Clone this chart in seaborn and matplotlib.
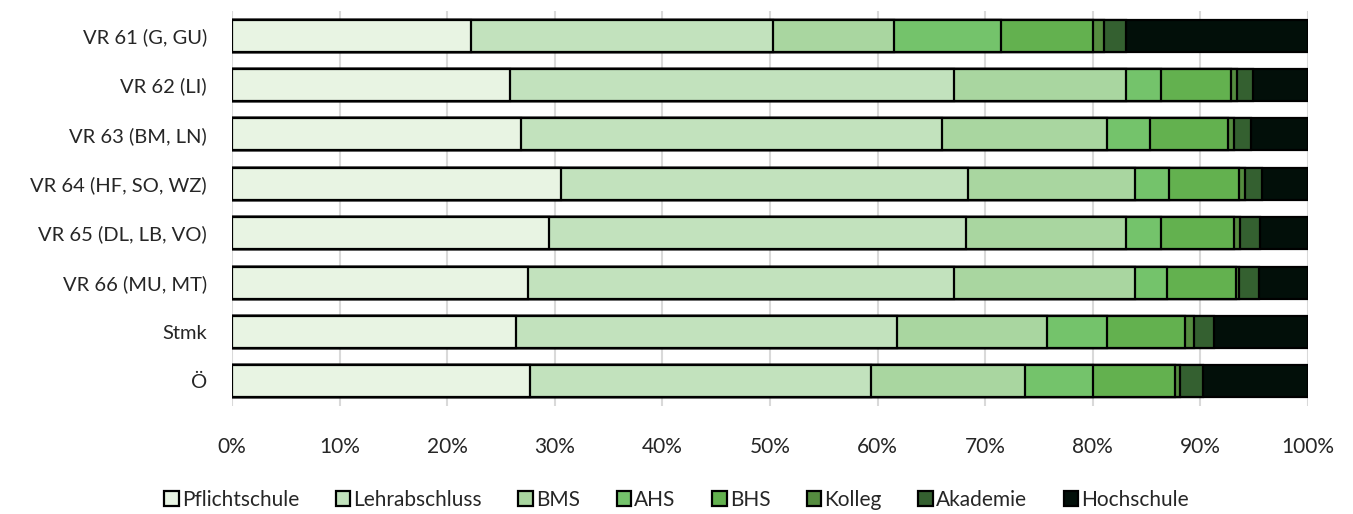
import numpy as np
import matplotlib
matplotlib.use("Agg")
import matplotlib.pyplot as plt
import pandas as pd
import seaborn as sns

# Daten (Anteile in %)
regionen = ["VR 61 (G, GU)", "VR 62 (LI)", "VR 63 (BM, LN)", "VR 64 (HF, SO, WZ)",
            "VR 65 (DL, LB, VO)", "VR 66 (MU, MT)", "Stmk", "Ö"]
bildung = ["Pflichtschule", "Lehrabschluss", "BMS", "AHS", "BHS", "Kolleg", "Akademie", "Hochschule"]

pflichtschule = [22.2, 25.8, 26.9, 30.6, 29.5, 27.5, 26.4, 27.7]
lehrabschluss = [28.1, 41.3, 39.1, 37.8, 38.7, 39.6, 35.4, 31.7]
bms = [11.2, 16.0, 15.3, 15.5, 14.9, 16.8, 13.9, 14.3]
ahs = [10.0, 3.2, 4.0, 3.2, 3.2, 3.0, 5.6, 6.3]
bhs = [8.5, 6.5, 7.3, 6.5, 6.8, 6.4, 7.3, 7.6]
kolleg = [1.0, 0.6, 0.5, 0.5, 0.6, 0.3, 0.8, 0.5]
akademie = [2.1, 1.5, 1.6, 1.6, 1.8, 1.8, 1.9, 2.1]
hochschule = [16.9, 5.1, 5.3, 4.3, 4.5, 4.6, 8.7, 9.8]

farben = ["#e8f4e3", "#c2e2bd", "#a9d6a0", "#74c36b", "#63b14f", "#558c3f", "#346030", "#020f09"]

df = pd.DataFrame({"Region": regionen, "Pflichtschule": pflichtschule,
                   "Lehrabschluss": lehrabschluss, "BMS": bms, "AHS": ahs, "BHS": bhs,
                   "Kolleg": kolleg, "Akademie": akademie, "Hochschule": hochschule})
cum = df[bildung].cumsum(axis=1)
cum = cum.div(cum["Hochschule"], axis=0) * 100  # auf 100 % normieren

sns.set_style("white")
plt.rcParams['font.family'] = ['Lato', 'DejaVu Sans']

fig = plt.figure(figsize=(13.53, 5.14), dpi=100)
ax = fig.add_axes([232 / 1353, 1 - 406 / 514, 1076 / 1353, 395 / 514])

# gestapelt: von hinten (kumuliert) nach vorne zeichnen
for name, col in list(zip(bildung, farben))[::-1]:
    sns.barplot(x=cum[name], y=df["Region"], color=col, label=name, ax=ax,
                orient="h", width=0.65, edgecolor="black", linewidth=1.6,
                saturation=1)

ax.set_xlim(0, 100)
ax.set_xticks(np.arange(0, 101, 10))
ax.set_xticklabels([f"{v}%" for v in range(0, 101, 10)], fontsize=15)
ax.tick_params(axis="y", labelsize=14.5, length=0, pad=18)
ax.tick_params(axis="x", length=0, pad=22)
ax.set_xlabel("")
ax.set_ylabel("")
ax.xaxis.grid(True, color="#d9d9d9", linewidth=1.5)
ax.set_axisbelow(True)
for s in ax.spines.values():
    s.set_visible(False)

h, l = ax.get_legend_handles_labels()
if ax.get_legend() is not None:
    ax.get_legend().remove()
fig.legend(h[::-1], l[::-1], loc="center", bbox_to_anchor=(0.5, 1 - 500 / 514),
           ncol=8, frameon=False, fontsize=15, handlelength=0.7, handleheight=0.7,
           handletextpad=0.15, columnspacing=1.75)

plt.savefig("out.png", dpi=100)
